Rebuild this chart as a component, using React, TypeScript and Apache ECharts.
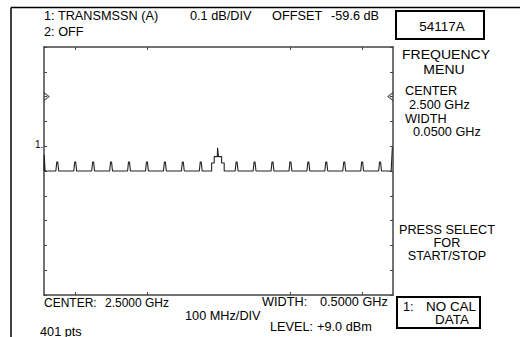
import React, { useEffect, useRef } from "react";
import * as echarts from "echarts";

// ---- data ----
// frequency axis (GHz) extent of the display and tick positions
const axisFreqMin = 2.2565;
const axisFreqMax = 2.743;
const freqTicks = [2.3, 2.4, 2.6, 2.7];
// level axis (dB relative to offset), 0.1 dB/DIV, 10 divisions
const levelMin = -0.5;
const levelMax = 0.5;
const levelStep = 0.1;
const refLevel = 0.3;

// small periodic spikes (GHz) and their heights (dB)
const spikeFreqs = [2.275, 2.3, 2.325, 2.35, 2.375, 2.4, 2.425, 2.45, 2.475, 2.525, 2.55, 2.575, 2.6, 2.625, 2.65, 2.675, 2.7, 2.725];
const spikeLevels = [0.036, 0.036, 0.036, 0.036, 0.036, 0.036, 0.036, 0.036, 0.036, 0.036, 0.036, 0.036, 0.036, 0.036, 0.036, 0.036, 0.036, 0.036];

// stepped bump near the centre: vertices (GHz, dB)
const bumpFreqs = [2.4902, 2.4902, 2.4938, 2.4938, 2.4981, 2.4985, 2.4993, 2.4997, 2.5041, 2.5041, 2.5077, 2.5077];
const bumpLevels = [0, 0.032, 0.032, 0.058, 0.058, 0.094, 0.094, 0.058, 0.058, 0.032, 0.032, 0];

// trace ends
const leftEdgeFreqs = [2.2565, 2.2568, 2.2574, 2.2580];
const leftEdgeLevels = [0.0, 0.065, 0.065, 0.0];
const rightEdgeFreqs = [2.7405, 2.7410, 2.7418, 2.7421, 2.743];
const rightEdgeLevels = [0, 0.035, 0.035, 0.095, 0.095];

const spikeHalfBase = 0.002;
const spikeHalfTop = 0.0007;

function buildTrace(): [number, number][] {
  const pts: [number, number][] = [];
  leftEdgeFreqs.forEach((f, i) => pts.push([f, leftEdgeLevels[i]]));
  spikeFreqs.forEach((f, i) => {
    const h = spikeLevels[i];
    pts.push([f - spikeHalfBase, 0], [f - spikeHalfTop, h], [f + spikeHalfTop, h], [f + spikeHalfBase, 0]);
  });
  bumpFreqs.forEach((f, i) => pts.push([f, bumpLevels[i]]));
  rightEdgeFreqs.forEach((f, i) => pts.push([f, rightEdgeLevels[i]]));
  return pts.sort((a, b) => a[0] - b[0]);
}

const FONT = "'Liberation Sans', Arial, Helvetica, sans-serif";
const SX = 1.06;

function txt(text: string, x: number, y: number, o: any = {}) {
  const align = o.align || "left";
  return {
    type: "text",
    x,
    y,
    scaleX: o.scaleX || SX,
    silent: true,
    style: {
      text,
      fill: "#000",
      fontFamily: FONT,
      fontSize: o.size || 12,
      align,
      textAlign: align,
      verticalAlign: "middle",
      textVerticalAlign: "middle",
    },
  };
}

export default function App() {
  const ref = useRef<HTMLDivElement>(null);
  useEffect(() => {
    document.body.style.margin = "0";
    const chart = echarts.init(ref.current!, null, { renderer: "svg" });
    const axisLineStyle = { color: "#444", width: 1.5 };
    const xAxisBase = {
      type: "value",
      min: axisFreqMin,
      max: axisFreqMax,
      axisLine: { show: true, onZero: false, lineStyle: axisLineStyle },
      axisTick: { show: true, inside: true, length: 3, customValues: freqTicks, lineStyle: { color: "#444", width: 1 } },
      axisLabel: { show: false },
      splitLine: { show: false },
    };
    const yAxisBase = {
      type: "value",
      min: levelMin,
      max: levelMax,
      interval: levelStep,
      axisLine: { show: true, onZero: false, lineStyle: axisLineStyle },
      axisTick: { show: true, inside: true, length: 3, lineStyle: { color: "#444", width: 1 } },
      axisLabel: { show: false },
      splitLine: { show: false },
    };
    const option: any = {
      animation: false,
      backgroundColor: "#fff",
      grid: { left: 44, top: 47, right: 127, bottom: 42, containLabel: false, outerBoundsMode: "none" },
      xAxis: [
        { ...xAxisBase, position: "bottom" },
        { ...xAxisBase, position: "top" },
      ],
      yAxis: [
        { ...yAxisBase, position: "left" },
        { ...yAxisBase, position: "right" },
      ],
      series: [
        {
          type: "line",
          data: buildTrace(),
          symbol: "none",
          lineStyle: { color: "#222", width: 1.1 },
          silent: true,
          z: 3,
        },
        {
          type: "scatter",
          data: [[axisFreqMin, refLevel]],
          symbol: "path://M0,0 L5,4 L0,8",
          symbolSize: [5, 8],
          symbolOffset: [2.5, 0],
          itemStyle: { color: "none", borderColor: "#333", borderWidth: 1 },
          silent: true,
        },
        {
          type: "scatter",
          data: [[axisFreqMax, refLevel]],
          symbol: "path://M5,0 L0,4 L5,8",
          symbolSize: [5, 8],
          symbolOffset: [-2.5, 0],
          itemStyle: { color: "none", borderColor: "#333", borderWidth: 1 },
          silent: true,
        },
      ],
      graphic: [
        { type: "line", shape: { x1: 11, y1: 7.5, x2: 520, y2: 7.5 }, style: { stroke: "#000", lineWidth: 1.5 }, silent: true },
        { type: "line", shape: { x1: 11, y1: 7.5, x2: 11, y2: 337 }, style: { stroke: "#000", lineWidth: 1.5 }, silent: true },
        { type: "rect", shape: { x: 396, y: 11, width: 88, height: 28 }, style: { fill: "none", stroke: "#000", lineWidth: 2 }, silent: true },
        { type: "rect", shape: { x: 397, y: 297, width: 83, height: 31 }, style: { fill: "none", stroke: "#000", lineWidth: 2 }, silent: true },
        txt("1: TRANSMSSN (A)", 44, 16.5),
        txt("0.1 dB/DIV", 190, 16.5),
        txt("OFFSET", 272, 16.5),
        txt("-59.6 dB", 331, 16.5),
        txt("2: OFF", 44, 32.5),
        txt("54117A", 442, 27, { align: "center", scaleX: 1.12 }),
        txt("FREQUENCY", 446, 55, { align: "center", size: 13, scaleX: 1.08 }),
        txt("MENU", 444, 70, { align: "center", size: 13, scaleX: 1.08 }),
        txt("CENTER", 405, 91.5),
        txt("2.500 GHz", 409, 105),
        txt("WIDTH", 405, 119.5),
        txt("0.0500 GHz", 413, 132.5),
        txt("1.", 35, 144, { size: 10, scaleX: 1 }),
        txt("PRESS SELECT", 447, 230, { align: "center" }),
        txt("FOR", 447, 243, { align: "center" }),
        txt("START/STOP", 447, 256, { align: "center" }),
        txt("CENTER:", 44, 302.5, { scaleX: 1.0 }),
        txt("2.5000 GHz", 105, 302.5, { scaleX: 1.0 }),
        txt("WIDTH:", 262, 302.5),
        txt("0.5000 GHz", 320, 302.5),
        txt("100 MHz/DIV", 185, 316),
        txt("1:", 403, 307),
        txt("NO CAL", 426, 307, { scaleX: 1.12 }),
        txt("DATA", 452, 320, { align: "center", scaleX: 1.12 }),
        txt("401 pts", 40, 332),
        txt("LEVEL:", 270, 327),
        txt("+9.0 dBm", 317, 327),
      ],
    };
    chart.setOption(option);
    return () => chart.dispose();
  }, []);
  return <div ref={ref} style={{ position: "fixed", left: 0, top: 0, width: 520, height: 337 }} />;
}
